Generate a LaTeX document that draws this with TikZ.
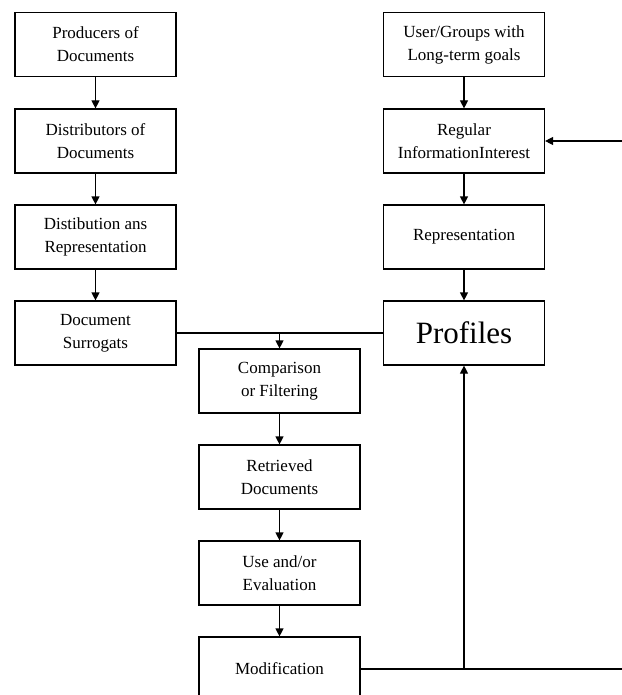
\documentclass[tikz,border=0pt]{standalone}
\usepackage{fontspec}
\setmainfont{Liberation Serif}
\usetikzlibrary{arrows.meta}
\begin{document}
\begin{tikzpicture}[x=1pt,y=-1pt,
  box/.style={draw,line width=1.2pt,minimum width=161pt,minimum height=64pt,
    align=center,inner sep=0pt,font=\fontsize{17}{23}\selectfont},
  flow/.style={line width=1.2pt,-{Triangle[length=8pt,width=8pt]}},
  link/.style={line width=1.2pt}]
\useasboundingbox (0,0) rectangle (621,695);
\fill[white] (0,0) rectangle (621,695);
% left column: document side
\node[box] (prod) at (95.5,44.5) {Producers of\\Documents};
\node[box] (dist) at (95.5,141) {Distributors of\\Documents};
\node[box] (drep) at (95.5,237) {Distibution ans\\Representation};
\node[box] (surr) at (95.5,333) {Document\\Surrogats};
% right column: user side
\node[box] (user) at (464,44.5) {User/Groups with\\Long-term goals};
\node[box] (reg) at (464,141) {Regular\\InformationInterest};
\node[box] (urep) at (464,237) {Representation};
\node[box,font=\fontsize{31}{36}\selectfont] (prof) at (464,333) {Profiles};
% middle column: filtering and feedback
\node[box] (comp) at (279.5,381) {Comparison\\or Filtering};
\node[box] (retr) at (279.5,477) {Retrieved\\Documents};
\node[box] (use) at (279.5,573) {Use and/or\\Evaluation};
\node[box] (mod) at (279.5,669) {Modification};
\coordinate (edgeB) at (625,669);
\coordinate (edgeT) at (625,141);
\coordinate (joinB) at (464,669);
\coordinate (joinT) at (279.5,333);

\draw[flow] (prod) -- (dist);
\draw[flow] (dist) -- (drep);
\draw[flow] (drep) -- (surr);
\draw[flow] (user) -- (reg);
\draw[flow] (reg) -- (urep);
\draw[flow] (urep) -- (prof);
\draw[link] (surr.east) -- (prof.west);
\draw[flow] (joinT) -- (comp.north);
\draw[flow] (comp) -- (retr);
\draw[flow] (retr) -- (use);
\draw[flow] (use) -- (mod);
\draw[link] (mod.east) -- (edgeB);
\draw[flow] (joinB) -- (prof.south);
\draw[flow] (edgeT) -- (reg.east);
\end{tikzpicture}
\end{document}
